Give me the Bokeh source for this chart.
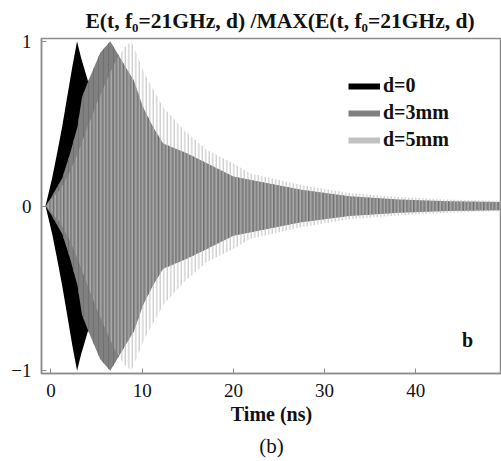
import numpy as np
from bokeh.plotting import figure
from bokeh.models import Range1d, FixedTicker, Legend, LegendItem, Label, Title
from bokeh.embed import file_html
from bokeh.resources import INLINE

# Envelope of E(t)/max for each distance
t_d0 = [-0.6, 0.13, 0.67, 1.22, 1.77, 2.32, 2.86, 3.3, 4.1, 5.5, 7.0, 9.0, 12.0, 16.0, 20.0]
a_d0 = [0.0, 0.17, 0.32, 0.48, 0.66, 0.84, 1.0, 0.9, 0.75, 0.5, 0.3, 0.15, 0.06, 0.02, 0.01]

t_d3 = [-0.6, 0.0, 1.24, 2.1, 2.9, 3.4, 4.1, 5.4, 6.5, 8.0, 9.1, 10.1, 11.2, 12.3,
        14.9, 17.1, 20.0, 21.8, 27.3, 32.7, 38.2, 43.5, 49.4]
a_d3 = [0.0, 0.05, 0.17, 0.32, 0.48, 0.66, 0.76, 0.93, 1.0, 0.86, 0.76, 0.6, 0.48, 0.38,
        0.32, 0.26, 0.18, 0.16, 0.10, 0.06, 0.04, 0.03, 0.025]

t_d5 = [-0.6, 1.0, 2.0, 3.0, 4.0, 5.0, 6.0, 7.0, 8.0, 8.8, 10.3, 12.3, 14.6, 17.1,
        20.0, 21.8, 27.3, 32.7, 38.2, 43.5, 49.4]
a_d5 = [0.0, 0.1, 0.2, 0.33, 0.48, 0.62, 0.75, 0.87, 0.96, 1.0, 0.8, 0.6, 0.46, 0.34,
        0.26, 0.2, 0.13, 0.08, 0.055, 0.04, 0.03]

labels = ["d=0", "d=3mm", "d=5mm"]
colors = ["#000000", "#808080", "#c2c2c2"]
x_ticks = [0, 10, 20, 30, 40]
y_ticks = [-1, 0, 1]

SERIF = "Liberation Serif"
AX = "#8c8c8c"
INK = "#111111"

p = figure(width=501, height=461, x_range=Range1d(-1.04, 49.4), y_range=Range1d(-1.016, 1.017),
           output_backend="svg", toolbar_location=None,
           min_border_left=41, min_border_right=0, min_border_top=38, min_border_bottom=85)
p.background_fill_color = "white"
p.border_fill_color = "white"
p.grid.visible = False
p.outline_line_color = AX
p.outline_line_width = 1.5

p.title.text = "E(t, f\u2080=21GHz, d) /MAX(E(t, f\u2080=21GHz, d)"
p.title.align = "left"
p.title.offset = 44
p.title.standoff = 12
p.title.text_font = SERIF
p.title.text_font_size = "21.5px"
p.title.text_font_style = "bold"
p.title.text_color = INK

for ax in (p.xaxis[0], p.yaxis[0]):
    ax.axis_line_color = AX
    ax.axis_line_width = 1.5
    ax.major_tick_line_color = AX
    ax.major_tick_in = 5
    ax.major_tick_out = 0
    ax.minor_tick_line_color = None
    ax.major_label_text_font = SERIF
    ax.major_label_text_font_size = "19px"
    ax.major_label_text_color = INK
p.xaxis.major_label_standoff = 10
p.yaxis.major_label_standoff = 10

p.xaxis.ticker = FixedTicker(ticks=x_ticks)
p.yaxis.ticker = FixedTicker(ticks=y_ticks)
p.xaxis.axis_label = "Time (ns)"
p.xaxis.axis_label_text_font = SERIF
p.xaxis.axis_label_text_font_size = "20px"
p.xaxis.axis_label_text_font_style = "bold"
p.xaxis.axis_label_standoff = 3
p.xaxis.axis_label_text_color = INK

neg = lambda a: [-v for v in a]

p.varea(x=t_d0, y1=neg(a_d0), y2=a_d0, fill_color=colors[0])
p.varea(x=t_d3, y1=neg(a_d3), y2=a_d3, fill_color=colors[1],
        hatch_pattern="|", hatch_color="#707070", hatch_scale=5, hatch_weight=1)
p.varea(x=t_d5, y1=neg(a_d5), y2=a_d5, fill_alpha=0,
        hatch_pattern="|", hatch_color="#bdbdbd", hatch_scale=3.5, hatch_weight=1)

rs = [p.line(x=[np.nan], y=[np.nan], line_color=c, line_width=6) for c in colors]
legend = Legend(items=[LegendItem(label=l, renderers=[r]) for l, r in zip(labels, rs)],
                location=(307, 222), padding=0, margin=0, spacing=4,
                glyph_width=32, glyph_height=22, label_height=22, label_standoff=3,
                label_text_font=SERIF, label_text_font_style="bold", label_text_font_size="20px",
                label_text_color=INK, background_fill_alpha=0, border_line_color=None)
p.add_layout(legend)

p.add_layout(Label(x=45.67, y=-0.81, text="b", text_font=SERIF, text_font_style="bold",
                   text_font_size="20px", text_align="center", text_baseline="middle",
                   text_color=INK))

p.add_layout(Title(text="(b)", align="center", standoff=8, text_font=SERIF,
                   text_font_size="21px", text_font_style="normal", text_color=INK), "below")

open("out.html", "w").write(file_html(p, INLINE))
